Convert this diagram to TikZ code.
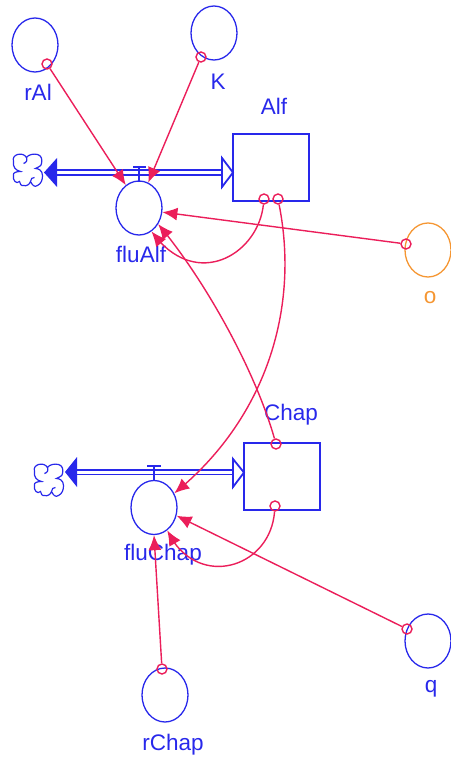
\documentclass[tikz,border=0pt]{standalone}
\usepackage{fontspec}
\setmainfont{Liberation Sans}
\usetikzlibrary{arrows.meta,bending,shapes.geometric}
\definecolor{blu}{RGB}{40,40,235}
\definecolor{pnk}{RGB}{235,30,90}
\definecolor{org}{RGB}{245,150,50}
\tikzset{
 conv/.style={ellipse,draw=blu,line width=1.3pt,minimum width=46pt,minimum height=54pt,inner sep=0pt},
 stock/.style={rectangle,draw=blu,line width=1.6pt,minimum width=76pt,minimum height=67pt,inner sep=0pt},
 lab/.style={text=blu,font=\fontsize{22.5}{24}\selectfont,inner sep=0pt},
 port/.style={circle,draw=pnk,line width=1.4pt,minimum size=10pt,inner sep=0pt},
 link/.style={draw=pnk,line width=1.4pt,-{Latex[length=15pt,width=13pt,fill=pnk]}},
 pipe/.style={draw=blu,line width=1.8pt},
 cloud/.style={draw=blu,line width=1.2pt},
}
\newcommand{\cloudshape}[1]{%
 \draw[cloud,shift={(#1)}]
 (-10,-16) .. controls (-6,-17) and (-3,-16) .. (-1,-13) .. controls (1,-16) and (6,-17) .. (10,-16)
 .. controls (14,-15) and (15,-11) .. (14,-7) .. controls (14,-5) and (11,-3) .. (8,-2)
 .. controls (11,-2) and (15,0) .. (15,5) .. controls (15,9) and (14,13) .. (10,15)
 .. controls (7,17) and (5,15) .. (3,11) .. controls (2,14) and (-1,16) .. (-4,15)
 .. controls (-6,16) and (-8,13) .. (-8,11) .. controls (-11,14) and (-15,10) .. (-14,5)
 .. controls (-15,2) and (-11,1) .. (-7,1) .. controls (-12,0) and (-15,-4) .. (-14,-9)
 .. controls (-15,-13) and (-13,-15) .. (-10,-16) -- cycle
 (-1,-13) .. controls (0,-10) and (-1,-8) .. (-4,-7)
 (3,11) .. controls (3,8) and (5,7) .. (7,7);}
\begin{document}
\begin{tikzpicture}[x=1pt,y=-1pt]
\useasboundingbox (0,0) rectangle (450,762);
\cloudshape{27.5,170.5}
\cloudshape{48.5,480.5}
\node[conv] (rAl) at (35,45) {};
\node[conv] (K) at (214,33) {};
\node[conv] (fluAlf) at (139,208) {};
\node[conv,draw=org] (o) at (428,250) {};
\node[stock] (Alf) at (271,167.5) {};
\node[stock] (Chap) at (282,476.5) {};
\node[conv] (fluChap) at (154,507.5) {};
\node[conv] (q) at (428,641) {};
\node[conv] (rChap) at (165,695) {};
\node[lab] at (38,92) {rAl};
\node[lab] at (218,82) {K};
\node[lab] at (274,106) {Alf};
\node[lab] at (141,254) {fluAlf};
\node[lab,text=org] at (430,298) {o};
\node[lab] at (291,415) {Chap};
\node[lab] at (163,555) {fluChap};
\node[lab] at (431,689) {q};
\node[lab] at (173,745) {rChap};
% valves and pipes
\draw[pipe] (57,170) -- (222,170) (57,175) -- (222,175);
\fill[blu] (44,172.5) -- (57,158) -- (57,187) -- cycle;
\draw[pipe,fill=white] (222,158) -- (233,172.5) -- (222,187) -- cycle;
\draw[pipe] (139,182) -- (139,167) (133,167) -- (146,167);
\draw[pipe] (77,470) -- (233,470) (77,474.5) -- (233,474.5);
\fill[blu] (65,472) -- (77,457) -- (77,487) -- cycle;
\draw[pipe,fill=white] (233,459) -- (244,472.5) -- (233,487) -- cycle;
\draw[pipe] (154,480) -- (154,466) (147,466) -- (161,466);
% ports
\node[port] (pr) at (47,64) {};
\node[port] (pk) at (201,57) {};
\node[port] (po) at (406,244) {};
\node[port] (pa1) at (264,199) {};
\node[port] (pa2) at (278,199) {};
\node[port] (pc1) at (276,444) {};
\node[port] (pc2) at (275,506) {};
\node[port] (pq) at (407,629) {};
\node[port] (prc) at (162,669) {};
% links
\draw[link] (pr) -- (fluAlf.120);
\draw[link] (pk) -- (fluAlf.70);
\draw[link] (po) -- (fluAlf.-10);
\draw[link] (pa1) .. controls (258,255) and (195,292) .. (fluAlf.-62);
\draw[link] (pc1) .. controls (255,370) and (205,280) .. (fluAlf.-40);
\draw[link] (pa2) .. controls (300,310) and (265,420) .. (fluChap.35);
\draw[link] (pc2) .. controls (270,570) and (195,590) .. (fluChap.-60);
\draw[link] (pq) -- (fluChap.-20);
\draw[link] (prc) -- (fluChap.-90);
\end{tikzpicture}
\end{document}
